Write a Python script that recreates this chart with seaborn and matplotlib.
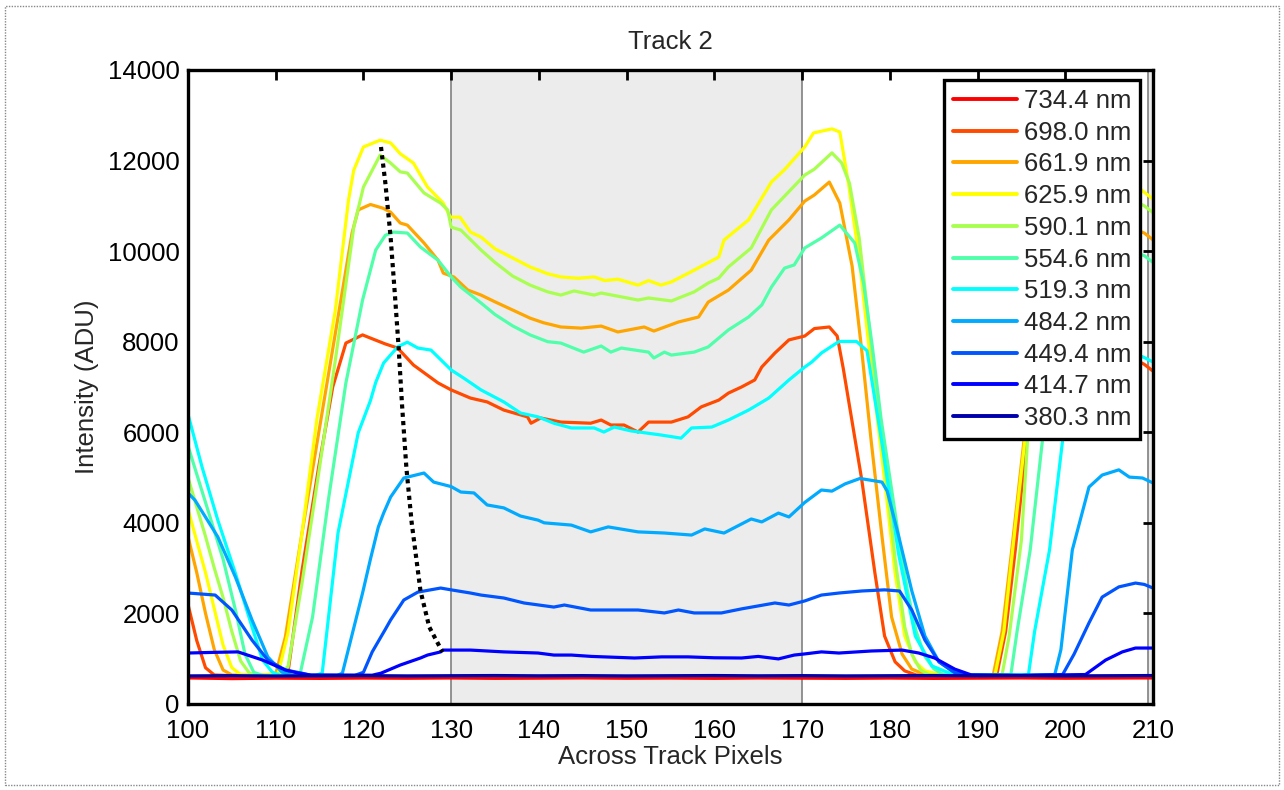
import matplotlib
matplotlib.use("Agg")
import matplotlib.pyplot as plt
from matplotlib.lines import Line2D
from matplotlib.patches import Rectangle
import seaborn as sns
import pandas as pd

# ---------------- data ----------------
WAVELENGTHS = ["734.4 nm", "698.0 nm", "661.9 nm", "625.9 nm", "590.1 nm", "554.6 nm",
               "519.3 nm", "484.2 nm", "449.4 nm", "414.7 nm", "380.3 nm"]
COLORS = ["#ff0000", "#ff4a00", "#ffa500", "#ffff00", "#a8ff50", "#50ffaa",
          "#00ffff", "#00aaff", "#0055ff", "#0000ff", "#0000aa"]

S_7344 = [(100, 575), (105, 560), (110, 570), (115, 565), (120, 572), (125, 568), (130, 574),
          (135, 566), (140, 570), (145, 575), (150, 568), (155, 572), (160, 566), (165, 574),
          (170, 570), (175, 566), (180, 572), (185, 565), (190, 570), (195, 574), (200, 568),
          (205, 572), (210, 575)]

S_6980 = [(100, 2200), (101, 1400), (102, 800), (103, 640), (105, 625), (108, 630), (111.0, 635),
          (111.4, 700), (113, 2950), (114.9, 5235), (116.5, 7000), (118, 7970), (119.9, 8150),
          (120.8, 8080), (122.5, 7950), (123.9, 7860), (125.7, 7485), (128.5, 7090), (130, 6935),
          (132.2, 6755), (134.1, 6670), (136, 6490), (138.7, 6340), (139.1, 6200), (140.2, 6315),
          (142.5, 6225), (145.9, 6200), (147.1, 6270), (148.2, 6160), (149.7, 6160), (151.3, 6005),
          (152.5, 6225), (155.1, 6225), (157, 6340), (158.5, 6560), (160.5, 6710), (161.6, 6865),
          (163.1, 7000), (164.6, 7155), (165.4, 7440), (166.9, 7750), (168.5, 8040), (170.3, 8125),
          (171.4, 8290), (173.1, 8325), (174, 8125), (174.7, 7400), (176.8, 4950), (178.3, 2890),
          (179.4, 1500), (180.6, 930), (181.7, 730), (183, 640), (186, 630), (189, 630),
          (192.2, 650), (193.2, 1600), (194.3, 3400), (195.6, 5830), (197, 7800), (199, 8250),
          (201, 8200), (205, 7900), (209, 7500), (210, 7350)]

S_6619 = [(100, 3700), (101, 2900), (102, 2000), (103, 1200), (104, 750), (105, 640), (108, 630),
          (110, 660), (111.1, 1480), (113, 3775), (114.9, 5985), (116.8, 8190), (118.7, 10400),
          (119.4, 10910), (120.8, 11030), (122.2, 10950), (123.1, 10860), (124.2, 10620),
          (125, 10575), (126.9, 10180), (128.5, 9800), (129.1, 9515), (130.3, 9430), (131.9, 9140),
          (133.4, 9030), (135, 8880), (137, 8700), (139, 8520), (140.5, 8420), (142.5, 8325),
          (144.8, 8300), (147.1, 8345), (149, 8215), (152, 8325), (153.1, 8235), (155.9, 8435),
          (158.2, 8545), (159.3, 8875), (161.6, 9140), (164.2, 9580), (166.2, 10245),
          (168.5, 10690), (170.3, 11105), (171.4, 11240), (173.1, 11525), (174.3, 11060),
          (175.7, 9670), (176.8, 7800), (177.9, 5760), (179.1, 3710), (180.2, 1920), (181.4, 1100),
          (182.5, 770), (184, 650), (188, 630), (191.8, 650), (192.8, 1600), (193.9, 3400),
          (195.3, 5830), (196.7, 8300), (198, 10000), (199, 10900), (200.5, 11050), (205, 10700),
          (209, 10400), (210, 10250)]

S_6259 = [(100, 4300), (101, 3600), (102, 2900), (103, 2100), (104, 1300), (105, 800), (106, 650),
          (108, 630), (110.3, 680), (111.4, 1570), (113, 3775), (114.7, 6300), (116.8, 8700),
          (118.3, 11130), (118.9, 11790), (120, 12300), (121.9, 12450), (123.1, 12390),
          (124.2, 12150), (125.7, 11945), (127.3, 11415), (129.1, 11060), (129.9, 10750),
          (131, 10750), (132.2, 10420), (133.4, 10310), (135, 10050), (137, 9850), (139, 9650),
          (141, 9500), (142.5, 9430), (144.5, 9400), (146.3, 9430), (147.5, 9350), (149, 9380),
          (151.3, 9250), (152.5, 9350), (153.9, 9250), (155.1, 9320), (157.7, 9580), (160.5, 9870),
          (161.1, 10245), (163.9, 10690), (166.5, 11525), (168, 11800), (170.3, 12300),
          (171.3, 12610), (173.4, 12700), (174.3, 12630), (175.3, 11480), (176.5, 9850),
          (177.9, 7400), (179.4, 4950), (180.6, 2890), (181.7, 1500), (182.9, 930), (184, 730),
          (186, 640), (190, 630), (192, 650), (193, 1600), (194, 3400), (195.4, 5830), (196.8, 8700),
          (198.2, 11100), (199.5, 12300), (201, 12450), (205, 11900), (209, 11300), (210, 11150)]

S_5901 = [(100, 5000), (101, 4350), (102, 3700), (103, 3000), (104, 2350), (105, 1600), (106, 950),
          (107, 680), (108, 630), (110, 630), (111.4, 820), (113, 2670), (114.9, 5100),
          (116.8, 7595), (118.9, 10530), (120, 11415), (121.9, 12120), (123.1, 11945),
          (124.2, 11750), (125, 11725), (126.9, 11285), (128.8, 11060), (129.6, 10910),
          (130, 10530), (131.1, 10465), (133.4, 10025), (135, 9750), (137, 9450), (139, 9250),
          (141, 9100), (142.5, 9030), (144, 9120), (146.3, 9030), (147.1, 9075), (151.3, 8920),
          (152.5, 8965), (155.1, 8900), (157.7, 9100), (159.3, 9295), (160.5, 9405), (161.6, 9650),
          (164.2, 10070), (166.5, 10910), (170.3, 11680), (171.4, 11810), (173.4, 12170),
          (174.5, 11950), (175.4, 11500), (176.5, 10300), (177.9, 7900), (179.4, 5300),
          (180.6, 3200), (181.7, 1700), (182.5, 1100), (183.5, 750), (184.5, 640), (190, 630),
          (192.8, 650), (193.6, 1500), (195, 3620), (195.7, 5830), (197.5, 9000), (199.5, 11500),
          (201, 12000), (205, 11400), (209, 11000), (210, 10850)]

S_5546 = [(100, 5700), (102, 4450), (104, 3200), (105.5, 2000), (106.5, 1100), (107.5, 700),
          (108.5, 630), (112, 630), (112.8, 680), (114.2, 1920), (116, 4500), (118, 7090),
          (119.9, 8920), (121.4, 10025), (122.5, 10350), (123.4, 10420), (125, 10400),
          (126.5, 10090), (128.5, 9800), (130, 9430), (131.1, 9205), (133.4, 8855), (135, 8600),
          (137, 8350), (139, 8150), (141, 8000), (142.5, 7970), (145.1, 7770), (147.1, 7905),
          (148.2, 7770), (149.4, 7860), (152.5, 7770), (153.1, 7640), (154.3, 7770), (155.1, 7705),
          (157.7, 7770), (159.3, 7885), (161.6, 8260), (163.9, 8545), (165.4, 8810), (166.5, 9205),
          (168, 9625), (169.1, 9695), (170.3, 10070), (172.2, 10290), (174.3, 10575),
          (176, 10180), (177, 9300), (178, 7900), (179, 6300), (180, 5000), (181, 3700),
          (182, 2500), (183, 1600), (184, 1050), (185, 780), (186, 660), (190, 630), (193.8, 650),
          (194.5, 1600), (196, 3400), (197.4, 5830), (199, 8500), (201, 10300), (203, 10400),
          (206, 10100), (209, 9900), (210, 9750)]

S_5193 = [(100, 6400), (101.6, 5235), (103.4, 4060), (105.4, 2890), (107.3, 1700), (108.5, 970),
          (109.6, 705), (110.5, 630), (114.5, 630), (115.3, 680), (117.1, 3775), (119.4, 5985),
          (120.8, 6700), (121.4, 7100), (122.3, 7530), (123.9, 7885), (125, 7990), (126.2, 7860),
          (127.7, 7815), (130, 7375), (131.4, 7200), (133.4, 6935), (136, 6670), (137.9, 6425),
          (139.9, 6340), (141.7, 6200), (143.7, 6095), (146.3, 6095), (147.4, 6005), (148.6, 6115),
          (150.5, 6030), (153.9, 5940), (156.2, 5870), (157.4, 6095), (159.7, 6115), (161.6, 6270),
          (163.9, 6490), (166.2, 6755), (168.5, 7155), (170.3, 7440), (171.1, 7550), (172.2, 7750),
          (174.2, 8005), (176.2, 8005), (177.4, 7800), (179.1, 5760), (181, 3310), (182.9, 1500),
          (184.8, 840), (186.7, 690), (188, 640), (192, 630), (195.8, 650), (196.5, 1600),
          (198.2, 3400), (199.7, 5830), (201.5, 7600), (203.5, 8000), (206, 7900), (209, 7650),
          (210, 7550)]

S_4842 = [(100, 4660), (100.8, 4500), (103.4, 3690), (105.4, 2805), (107.3, 1855), (109.1, 1040),
          (110.7, 705), (112, 630), (117, 630), (117.6, 680), (119.9, 2450), (120.8, 3200),
          (121.7, 3910), (122.3, 4215), (123.1, 4570), (124.6, 4990), (126.9, 5100), (128, 4900),
          (130, 4800), (131.1, 4680), (132.6, 4660), (134.1, 4395), (136, 4330), (137.9, 4150),
          (139.9, 4060), (140.6, 4000), (143.7, 3950), (145.9, 3800), (147.9, 3910), (151.3, 3800),
          (154.3, 3775), (157.4, 3730), (158.9, 3865), (161.1, 3775), (164.2, 4085), (165.4, 4020),
          (167.3, 4215), (168.5, 4130), (170.3, 4450), (172.2, 4725), (173.4, 4700), (174.9, 4860),
          (176.6, 4980), (179.1, 4900), (179.7, 4700), (181, 3710), (182.5, 2500), (184, 1500),
          (185.6, 930), (187.1, 730), (189, 640), (195, 630), (198.8, 650), (199.5, 1200),
          (200.8, 3400), (202.7, 4790), (204.2, 5055), (206.1, 5170), (207.3, 5010), (208.8, 4990),
          (210, 4880)]

S_4494 = [(100, 2450), (103.1, 2405), (105, 2075), (107.3, 1410), (109.1, 970), (111.1, 750),
          (113, 680), (114, 630), (119, 630), (120, 700), (121, 1150), (122.5, 1650), (123.1, 1855),
          (124.6, 2295), (126.2, 2470), (128.8, 2560), (130, 2520), (132.2, 2450), (133.4, 2405),
          (136, 2340), (138.3, 2230), (141.7, 2140), (142.9, 2185), (145.9, 2075), (148.2, 2075),
          (151.3, 2075), (154.3, 2010), (155.9, 2075), (157.7, 2010), (160.8, 2010), (163.1, 2100),
          (166.9, 2230), (168.5, 2185), (170.3, 2275), (172.2, 2405), (174.2, 2450), (176.8, 2495),
          (179.4, 2520), (181.1, 2495), (182.5, 2075), (184, 1410), (185.6, 930), (187.4, 690),
          (189, 640), (195, 630), (199.7, 650), (201, 1100), (202.7, 1790), (204.2, 2360),
          (206.1, 2585), (208, 2670), (209, 2640), (210, 2560)]

S_4147 = [(100, 1125), (103, 1140), (105.7, 1150), (108.5, 970), (111.1, 750), (112.6, 680),
          (114, 640), (121, 635), (122, 680), (124.2, 860), (126.5, 1015), (127.3, 1080),
          (128.8, 1150), (129.1, 1190), (132.2, 1190), (134.1, 1170), (136, 1150), (139.9, 1125),
          (141.7, 1080), (143.7, 1080), (146, 1050), (150.9, 1015), (154, 1040), (157, 1040),
          (160, 1020), (163.1, 1015), (165, 1050), (167.3, 995), (169.1, 1080), (170.3, 1105),
          (172.2, 1150), (174.2, 1125), (177.9, 1170), (181.4, 1190), (183.3, 1125), (185.1, 1015),
          (187.4, 770), (189.3, 640), (195, 630), (202.3, 650), (204.6, 970), (206.5, 1150),
          (208, 1235), (210, 1235)]

S_3803 = [(100, 620), (105, 625), (110, 618), (115, 622), (120, 626), (125, 620), (130, 624),
          (135, 628), (140, 622), (145, 626), (150, 620), (155, 624), (160, 628), (165, 622),
          (170, 626), (175, 620), (180, 624), (185, 628), (190, 622), (195, 626), (200, 620),
          (205, 624), (210, 628)]

SERIES = [S_7344, S_6980, S_6619, S_6259, S_5901, S_5546, S_5193, S_4842, S_4494, S_4147, S_3803]

# dotted peak-trace line
DOT_X = [122.0, 122.5, 123.1, 123.6, 124.0, 124.4, 124.9, 125.5, 126.5, 127.5, 129.0]
DOT_Y = [12300, 11500, 10300, 9000, 7900, 6600, 5200, 4000, 2500, 1700, 1150]

SHADE_BANDS = [(130, 170), (209.4, 212)]
X_TICKS = list(range(100, 211, 10))
Y_TICKS = list(range(0, 14001, 2000))

TITLE = "Track 2"
XLABEL = "Across Track Pixels"
YLABEL = "Intensity (ADU)"

# ---------------- build ----------------
rows = []
for lab, pts in zip(WAVELENGTHS, SERIES):
    for i, (x, y) in enumerate(pts):
        rows.append({"wl": lab, "px": x, "val": y, "ord": i})
df = pd.DataFrame(rows)

sns.set_style("white")
plt.rcParams["font.family"] = ["Liberation Sans", "DejaVu Sans"]
FS = 18.5

fig = plt.figure(figsize=(12.84, 7.90), dpi=100)
ax = fig.add_axes([0.1464, 0.1089, 0.7516, 0.8025])

for (a, b) in SHADE_BANDS:
    ax.axvspan(a, b, facecolor="#ececec", edgecolor="none", zorder=0)
    ax.axvline(a, color="#808080", lw=1.2, zorder=0.5)
    ax.axvline(b, color="#808080", lw=1.2, zorder=0.5)

palette = dict(zip(WAVELENGTHS, COLORS))
sns.lineplot(data=df, x="px", y="val", hue="wl", hue_order=WAVELENGTHS, palette=palette,
             estimator=None, sort=False, units="wl", legend=False, lw=2.3, ax=ax, zorder=2)

sns.lineplot(x=DOT_X, y=DOT_Y, color="black", lw=3.0, linestyle=(0, (1, 1)),
             estimator=None, sort=False, ax=ax, zorder=3)

ax.set_xlim(100, 210)
ax.set_ylim(0, 14000)
ax.set_xticks(X_TICKS)
ax.set_yticks(Y_TICKS)
ax.tick_params(axis="both", direction="in", length=7, width=2, labelsize=FS,
               top=True, right=True, colors="black")
ax.tick_params(axis="x", pad=11)
ax.tick_params(axis="y", pad=6)
for sp in ax.spines.values():
    sp.set_visible(True)
    sp.set_color("black")
    sp.set_linewidth(2.4)
    sp.set_zorder(5)

ax.set_title(TITLE, fontsize=FS, pad=15)
ax.set_xlabel(XLABEL, fontsize=FS, labelpad=1)
ax.set_ylabel(YLABEL, fontsize=FS, labelpad=6)

handles = [Line2D([0], [0], color=c, lw=2.8) for c in COLORS]
leg = ax.legend(handles, WAVELENGTHS, loc="upper right", bbox_to_anchor=(0.9865, 0.9842),
                borderaxespad=0, fontsize=FS, frameon=True, fancybox=False,
                labelspacing=0.30, handlelength=2.5, handletextpad=0.25, borderpad=0.35,
                framealpha=1)
leg.get_frame().set_edgecolor("black")
leg.get_frame().set_linewidth(2.4)
leg.set_zorder(10)

fig.patches.append(Rectangle((0.004, 0.006), 0.992, 0.987, transform=fig.transFigure,
                             fill=False, edgecolor="#888888", lw=1.0, linestyle=(0, (1, 1))))

fig.savefig("out.png", dpi=100)
